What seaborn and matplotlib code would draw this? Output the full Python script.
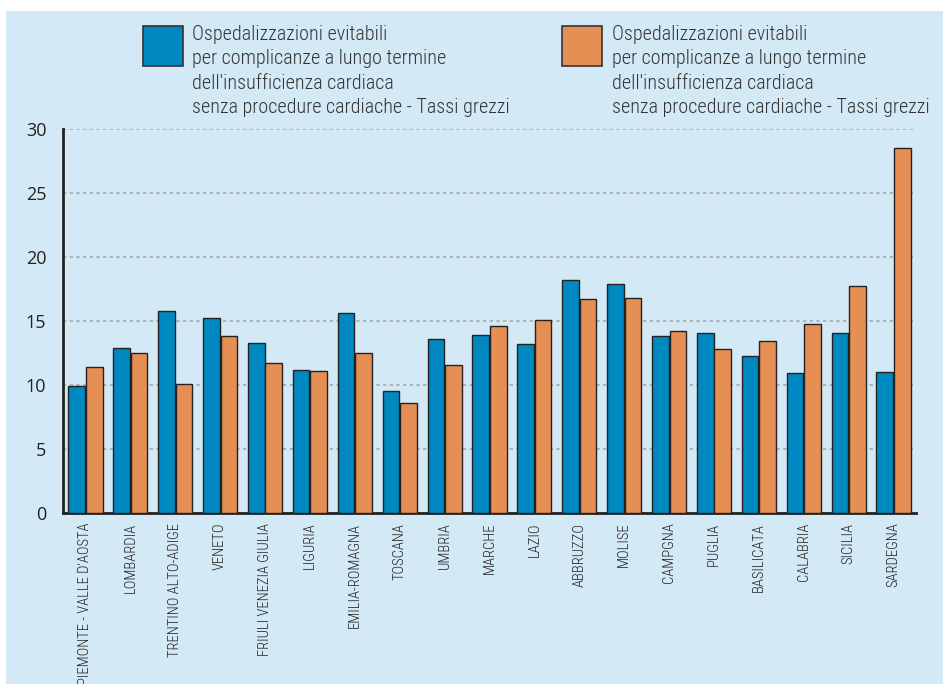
import matplotlib
matplotlib.use("Agg")
import matplotlib.pyplot as plt
import seaborn as sns
import pandas as pd
import numpy as np
from matplotlib.patches import Rectangle

regioni = ["PIEMONTE - VALLE D'AOSTA", "LOMBARDIA", "TRENTINO ALTO-ADIGE", "VENETO",
           "FRIULI VENEZIA GIULIA", "LIGURIA", "EMILIA-ROMAGNA", "TOSCANA", "UMBRIA",
           "MARCHE", "LAZIO", "ABBRUZZO", "MOLISE", "CAMPGNA", "PUGLIA", "BASILICATA",
           "CALABRIA", "SICILIA", "SARDEGNA"]
serie_blu = [9.9, 12.9, 15.8, 15.2, 13.3, 11.2, 15.6, 9.5, 13.6, 13.9, 13.2, 18.2,
             17.9, 13.8, 14.1, 12.3, 10.9, 14.1, 11.0]
serie_arancio = [11.4, 12.5, 10.1, 13.8, 11.7, 11.1, 12.5, 8.6, 11.6, 14.6, 15.1, 16.7,
                 16.8, 14.2, 12.8, 13.4, 14.8, 17.7, 28.5]
etichetta = ("Ospedalizzazioni evitabili\nper complicanze a lungo termine\n"
             "dell'insufficienza cardiaca\nsenza procedure cardiache - Tassi grezzi")
serie_nomi = ["Serie A", "Serie B"]
legenda = [etichetta, etichetta]
colori = ["#0088c0", "#e68f54"]
yticks = [0, 5, 10, 15, 20, 25, 30]

df = pd.DataFrame({
    "regione": regioni * 2,
    "valore": serie_blu + serie_arancio,
    "serie": [serie_nomi[0]] * len(regioni) + [serie_nomi[1]] * len(regioni),
})

sns.set_style("white")
import logging
logging.getLogger("matplotlib.font_manager").setLevel(logging.ERROR)
cond = ['Roboto Condensed', 'Fira Sans Condensed', 'PT Sans Narrow', 'Archivo Narrow',
        'Liberation Sans Narrow', 'DejaVu Sans']
plt.rcParams['font.family'] = cond

W, H = 943, 684
fig = plt.figure(figsize=(W / 100, H / 100), dpi=100, facecolor="white")
bg = "#d3e9f5"
fig.add_artist(Rectangle((6 / W, 0), 1, (H - 11) / H, transform=fig.transFigure,
                         facecolor=bg, edgecolor="none", zorder=0))

ax = fig.add_axes([63 / W, 1 - 513 / H, (916 - 63) / W, (513 - 129) / H])
ax.patch.set_alpha(0)

sns.barplot(data=df, x="regione", y="valore", hue="serie", palette=colori,
            saturation=1, width=0.78, gap=0.05, edgecolor="#222222", linewidth=1.0,
            legend=False, ax=ax, zorder=3)

ax.set_xlim(-0.5, len(regioni) - 0.5)
ax.set_ylim(0, 30)
ax.set_yticks(yticks)
ax.set_yticklabels([str(v) for v in yticks], fontsize=13, color="#222222",
                   family=['Open Sans', 'DejaVu Sans'])
ax.tick_params(axis="y", length=0, pad=12)
ax.set_xticks(range(len(regioni)))
ax.set_xticklabels(regioni, rotation=90, fontsize=10.5, color="#222222", va="top",
                   fontweight="light")
ax.tick_params(axis="x", length=0, pad=7)
ax.set_xticks(np.arange(0.5, len(regioni), 1.0), minor=True)
ax.tick_params(axis="x", which="minor", direction="in", length=6, width=2, color="#222222")
ax.set_xlabel("")
ax.set_ylabel("")

ax.yaxis.grid(True, color="#aaaaaa", linestyle=(0, (2, 2)), linewidth=1.2, zorder=0)
ax.set_axisbelow(True)
for s in ["top", "right"]:
    ax.spines[s].set_visible(False)
for s in ["left", "bottom"]:
    ax.spines[s].set_color("#222222")
    ax.spines[s].set_linewidth(2)

# legend boxes
for i, (xs, xt) in enumerate([(143, 192), (562, 612)]):
    fig.add_artist(Rectangle((xs / W, 1 - 66 / H), 40 / W, 40 / H, transform=fig.transFigure,
                             facecolor=colori[i], edgecolor="#333333", linewidth=1.2, zorder=5))
    fig.text(xt / W, 1 - 25 / H, legenda[i], fontsize=14.5, color="#333333",
             va="top", ha="left", linespacing=1.36, zorder=5, fontweight="light")

fig.savefig("out.png", dpi=100, facecolor="white")
